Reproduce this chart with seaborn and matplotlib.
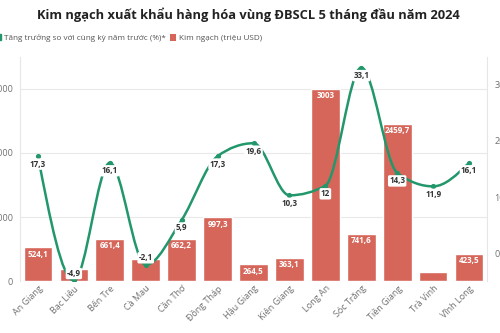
import numpy as np
import seaborn as sns
import matplotlib.pyplot as plt
from matplotlib.path import Path
from matplotlib.patches import PathPatch, Patch
from matplotlib.lines import Line2D

regions = ["An Giang", "Bạc Liêu", "Bến Tre", "Cà Mau", "Cần Thơ", "Đồng Tháp", "Hậu Giang",
           "Kiên Giang", "Long An", "Sóc Trăng", "Tiền Giang", "Trà Vinh", "Vĩnh Long"]
turnover = [524.1, 182, 661.4, 344, 662.2, 997.3, 264.5, 363.1, 3003, 741.6, 2459.7, 145, 423.5]
turnover_labels = ["524,1", "", "661,4", "", "662,2", "997,3", "264,5", "363,1", "3003",
                   "741,6", "2459,7", "", "423,5"]
growth = [17.3, -4.9, 16.1, -2.1, 5.9, 17.3, 19.6, 10.3, 12, 33.1, 14.3, 11.9, 16.1]

BAR = "#d6665a"
GREEN = "#22976b"
GREY = "#707070"

sns.set_theme(style="white")
plt.rcParams['font.family'] = ['Open Sans', 'DejaVu Sans']


def fmt(v):
    return f"{v:g}".replace(".", ",")


def monotone_path(xs, ys):
    # d3 curveMonotoneX as cubic beziers
    xs = np.asarray(xs, float)
    ys = np.asarray(ys, float)
    n = len(xs)
    h = np.diff(xs)
    s = np.diff(ys) / h
    t = np.zeros(n)
    for i in range(1, n - 1):
        p = (s[i - 1] * h[i] + s[i] * h[i - 1]) / (h[i - 1] + h[i])
        t[i] = (np.sign(s[i - 1]) + np.sign(s[i])) * min(abs(s[i - 1]), abs(s[i]), 0.5 * abs(p))
    t[0] = (3 * s[0] - t[1]) / 2
    t[-1] = (3 * s[-1] - t[-2]) / 2
    verts = [(xs[0], ys[0])]
    codes = [Path.MOVETO]
    for i in range(n - 1):
        dx = h[i] / 3
        verts += [(xs[i] + dx, ys[i] + dx * t[i]), (xs[i + 1] - dx, ys[i + 1] - dx * t[i + 1]),
                  (xs[i + 1], ys[i + 1])]
        codes += [Path.CURVE4] * 3
    return Path(verts, codes)


fig = plt.figure(figsize=(5, 3.33), dpi=100)
ax = fig.add_axes([0.04, 0.156, 0.934, 0.673])

sns.barplot(x=regions, y=turnover, ax=ax, color=BAR, width=0.8, saturation=1)
ax.set_ylim(0, 3500)
ax.set_xlim(-0.5, 12.5)
ax.set_yticks([0, 1000, 2000, 3000])
ax.grid(axis="y", color="#e9e9e9", linewidth=0.8)
ax.set_axisbelow(True)
for side in ["top", "bottom"]:
    ax.spines[side].set_visible(False)
for side in ["left", "right"]:
    ax.spines[side].set_color("#e6e6e6")
    ax.spines[side].set_linewidth(0.8)
ax.tick_params(axis="y", length=0, pad=5, labelsize=6.5, labelcolor=GREY)
ax.tick_params(axis="x", length=0, pad=2, labelsize=6.5, labelcolor=GREY)
plt.setp(ax.get_xticklabels(), rotation=45, ha="right", rotation_mode="anchor")
ax.set_xlabel("")
ax.set_ylabel("")

for bar, lab in zip(ax.patches, turnover_labels):
    if lab:
        ax.annotate(lab, (bar.get_x() + bar.get_width() / 2, bar.get_height()),
                    xytext=(0, -7), textcoords="offset pixels", ha="center", va="center",
                    fontsize=5.8, fontweight="bold", color="white")

ax2 = ax.twinx()
ax2.set_ylim(-5, 35)
ax2.set_yticks([0, 10, 20, 30])
ax2.tick_params(axis="y", length=0, pad=5.5, labelsize=6.5, labelcolor=GREY)
for side in ["top", "bottom", "left", "right"]:
    ax2.spines[side].set_visible(False)

xs = np.arange(len(growth))
ax2.add_patch(PathPatch(monotone_path(xs, growth), facecolor="none", edgecolor=GREEN,
                        linewidth=1.8, capstyle="round", joinstyle="round"))
sns.scatterplot(x=xs, y=growth, ax=ax2, color=GREEN, s=14, linewidth=0, zorder=3)

for x, v in zip(xs, growth):
    off = -8 if v >= 0 else 7
    ax2.annotate(fmt(v), (x, v), xytext=(0, off), textcoords="offset pixels",
                 ha="center", va="center", fontsize=5.8, fontweight="bold", color="#333333",
                 bbox=dict(boxstyle="round,pad=0.15,rounding_size=0.2", fc="white", ec="none"),
                 zorder=4)

fig.text(0.497, 1 - 15 / 333, "Kim ngạch xuất khẩu hàng hóa vùng ĐBSCL 5 tháng đầu năm 2024",
         ha="center", va="center", fontsize=9.3, fontweight="bold", color="#222222")

handles = [Line2D([], [], marker="s", color=GREEN, linestyle="none", markersize=5),
           Patch(facecolor=BAR, edgecolor="none")]
fig.legend(handles, ["Tăng trưởng so với cùng kỳ năm trước (%)*", "Kim ngạch (triệu USD)"],
           loc="center left", bbox_to_anchor=(-0.01, 1 - 38 / 333), ncol=2, frameon=False,
           fontsize=5.9, labelcolor="#555555", handlelength=0.7, handleheight=0.9,
           handletextpad=0.4, columnspacing=0.5, borderaxespad=0, borderpad=0)

fig.savefig("out.png", dpi=100)
